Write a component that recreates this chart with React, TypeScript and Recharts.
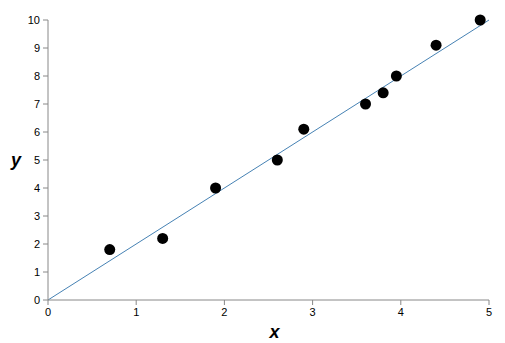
import React from 'react';
import { ScatterChart, Scatter, XAxis, YAxis, ReferenceLine } from 'recharts';

const xValues = [0.7, 1.3, 1.9, 2.6, 2.9, 3.6, 3.8, 3.95, 4.4, 4.9];
const yValues = [1.8, 2.2, 4.0, 5.0, 6.1, 7.0, 7.4, 8.0, 9.1, 10.0];
const xTicks = [0, 1, 2, 3, 4, 5];
const yTicks = [0, 1, 2, 3, 4, 5, 6, 7, 8, 9, 10];
const fitStart = { x: 0, y: 0 };
const fitEnd = { x: 5, y: 10 };

const points = xValues.map((x, i) => ({ x, y: yValues[i] }));

const axisColor = '#888';
const tickStyle = { fontSize: 11, fill: '#000', fontFamily: 'Liberation Sans, Arial, sans-serif' };
const axisLabelStyle = { fontSize: 18, fontWeight: 'bold', fontStyle: 'italic', fill: '#000' };

function Dot(props: any) {
  const { cx, cy } = props;
  return <circle cx={cx} cy={cy} r={5.5} fill="#000" />;
}

export default function App() {
  return (
    <div style={{ width: 505, height: 343, fontFamily: 'Liberation Sans, Arial, sans-serif' }}>
      <style>{'body{margin:0}'}</style>
      <ScatterChart width={505} height={343} margin={{ top: 20, right: 16, bottom: 13, left: 0 }}>
        <XAxis
          type="number"
          dataKey="x"
          domain={[0, 5]}
          ticks={xTicks}
          height={30}
          stroke={axisColor}
          tickSize={5}
          tickMargin={3}
          tick={tickStyle}
          label={{ value: 'x', position: 'insideBottom', offset: -8, dx: 6, style: axisLabelStyle }}
        />
        <YAxis
          type="number"
          dataKey="y"
          domain={[0, 10]}
          ticks={yTicks}
          width={48}
          stroke={axisColor}
          tickSize={5}
          tickMargin={3}
          tick={tickStyle}
          label={{ value: 'y', position: 'insideLeft', offset: 11, style: axisLabelStyle }}
        />
        <ReferenceLine segment={[fitStart, fitEnd]} stroke="#4682b4" strokeWidth={1} ifOverflow="visible" />
        <Scatter data={points} fill="#000" shape={<Dot />} isAnimationActive={false} />
      </ScatterChart>
    </div>
  );
}
